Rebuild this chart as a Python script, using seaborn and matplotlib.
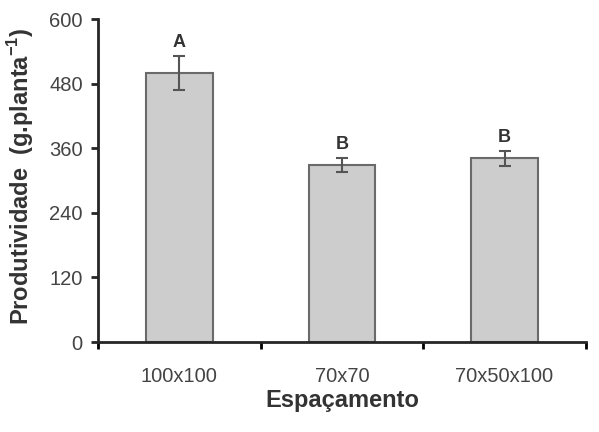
import matplotlib
matplotlib.use('Agg')
import matplotlib.pyplot as plt
import seaborn as sns
import pandas as pd

espacamento = ['100x100', '70x70', '70x50x100']
produtividade = [500, 328, 341]
erro = [31, 13, 14]
letras = ['A', 'B', 'B']

sns.set_style('ticks')
plt.rcParams['font.family'] = ['Liberation Sans', 'DejaVu Sans']
plt.rcParams['mathtext.fontset'] = 'custom'
plt.rcParams['mathtext.rm'] = 'Liberation Sans'
plt.rcParams['mathtext.bf'] = 'Liberation Sans:bold'

df = pd.DataFrame({'esp': espacamento, 'prod': produtividade})

fig = plt.figure(figsize=(5.99, 4.32), dpi=100)
ax = fig.add_axes([0.1636, 0.2083, 0.8144, 0.7477])
sns.barplot(data=df, x='esp', y='prod', color='#cdcdcd', edgecolor='#6a6a6a',
            linewidth=1.5, width=0.41, errorbar=None, saturation=1, ax=ax)
ax.errorbar(range(len(espacamento)), produtividade, yerr=erro, fmt='none',
            ecolor='#555555', elinewidth=1.5, capsize=4, capthick=1.5)
for i, (v, e, l) in enumerate(zip(produtividade, erro, letras)):
    ax.text(i, v + e + 10, l, ha='center', va='bottom', fontsize=13,
            fontweight='bold', color='#333333')

ax.set_ylim(0, 600)
ax.set_yticks([0, 120, 240, 360, 480, 600])
ax.set_xlim(-0.5, 2.5)
ax.set_xticks([-0.5, 0.5, 1.5, 2.5], minor=False)
ax.set_xticks([0, 1, 2], minor=True)
ax.set_xticklabels(['', '', '', ''])
ax.set_xticklabels(espacamento, minor=True)
ax.tick_params(axis='x', which='minor', length=0, pad=18, labelsize=14.5, labelcolor='#444444')
ax.tick_params(axis='x', which='major', length=5, width=2, direction='out', color='black')
ax.tick_params(axis='y', length=5, width=2, direction='out', labelsize=14.5,
               labelcolor='#444444', pad=6)
sns.despine(ax=ax)
ax.spines['left'].set_linewidth(2)
ax.spines['bottom'].set_linewidth(2)

ax.set_xlabel('Espaçamento', fontsize=17, fontweight='bold', color='#333333', labelpad=2)
ax.set_ylabel('')
ax.text(-0.158, 0.053, r'Produtividade  (g.planta$^{\mathbf{-1}}$)', transform=ax.transAxes,
        rotation=90, ha='center', va='bottom', fontsize=17,
        fontweight='bold', color='#333333')

fig.savefig('out.png', dpi=100)
